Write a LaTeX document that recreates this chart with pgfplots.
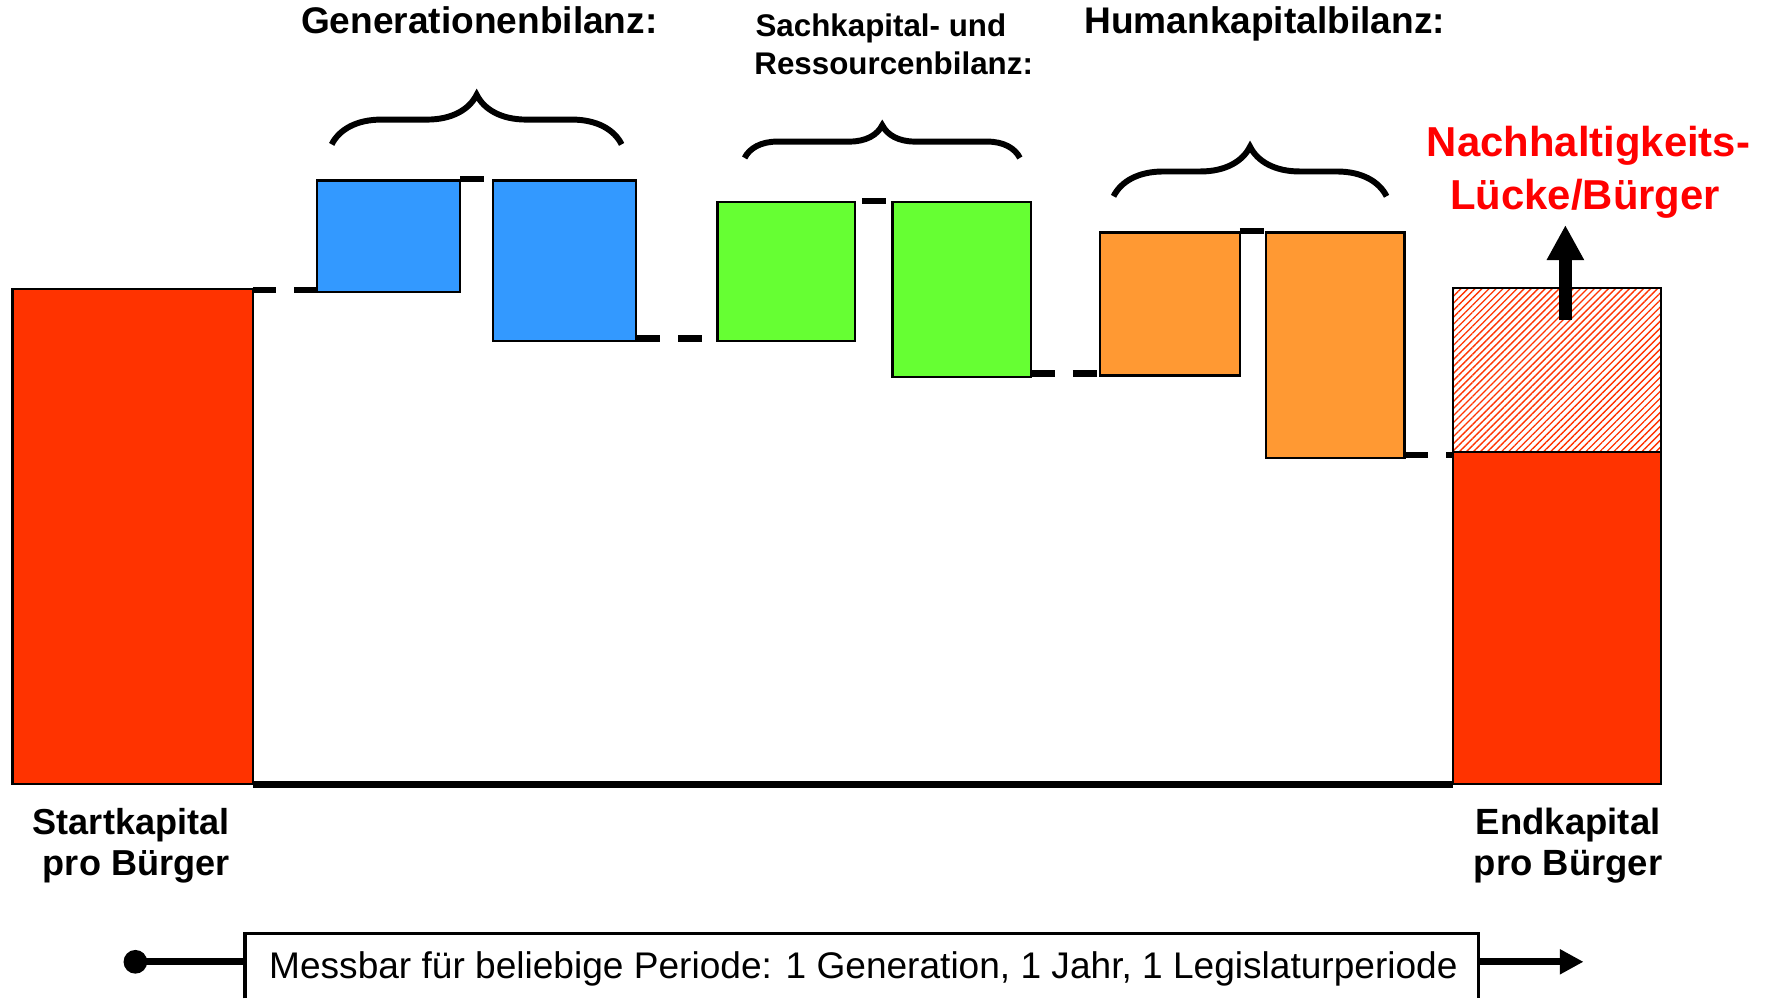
\documentclass[border=0pt]{standalone}
\usepackage{fontspec}
\setmainfont{Liberation Sans}
\usepackage{pgfplots}
\pgfplotsset{compat=1.18}
\usetikzlibrary{patterns.meta,arrows.meta,decorations.pathreplacing}
\definecolor{cred}{RGB}{255,51,0}
\definecolor{cblue}{RGB}{51,153,255}
\definecolor{cgreen}{RGB}{102,255,51}
\definecolor{corange}{RGB}{255,153,51}
\definecolor{lred}{RGB}{255,0,0}
\tikzset{
  bar/.style={draw=black, line width=0.6pt},
  conn/.style={black, line width=0.55mm, dash pattern=on 2.1mm off 1.6mm},
  brc/.style={black, line width=1.5pt, decorate},
}
\begin{document}
\begin{tikzpicture}
\useasboundingbox (0,0) rectangle (156.8mm,88.5mm);
\begin{axis}[
  at={(0,0)}, anchor=south west,
  scale only axis, width=156.8mm, height=88.5mm,
  xmin=0, xmax=1568, ymin=-190, ymax=695,
  hide axis, clip=false,
]
% --- bars (x from, x to, low value, high value) ---
% Startkapital
\addplot[bar, fill=cred] coordinates {(11,0) (224,0) (224,439) (11,439)} -- cycle;
% Generationenbilanz
\addplot[bar, fill=cblue] coordinates {(281,436) (408,436) (408,535) (281,535)} -- cycle;
\addplot[bar, fill=cblue] coordinates {(437,393) (564,393) (564,535) (437,535)} -- cycle;
% Sachkapital- und Ressourcenbilanz
\addplot[bar, fill=cgreen] coordinates {(636,393) (758,393) (758,516) (636,516)} -- cycle;
\addplot[bar, fill=cgreen] coordinates {(791,361) (914,361) (914,516) (791,516)} -- cycle;
% Humankapitalbilanz
\addplot[bar, fill=corange] coordinates {(975,362) (1099,362) (1099,489) (975,489)} -- cycle;
\addplot[bar, fill=corange] coordinates {(1122,289) (1245,289) (1245,489) (1122,489)} -- cycle;
% Endkapital and gap
\addplot[bar, fill=cred] coordinates {(1288,0) (1472,0) (1472,294.5) (1288,294.5)} -- cycle;
\addplot[bar, pattern={Lines[angle=45,distance=0.44mm,line width=0.12mm]}, pattern color=cred]
  coordinates {(1288,294.5) (1472,294.5) (1472,439.5) (1288,439.5)} -- cycle;

% --- connectors ---
\addplot[conn] coordinates {(224,438) (281,438)};
\addplot[conn] coordinates {(408,536) (437,536)};
\addplot[conn] coordinates {(564,395) (636,395)};
\addplot[conn] coordinates {(764,517) (791,517)};
\addplot[conn] coordinates {(914,364) (975,364)};
\addplot[conn] coordinates {(1099,490) (1122,490)};
\addplot[conn] coordinates {(1245,292) (1288,292)};
% baseline
\addplot[black, line width=0.6mm] coordinates {(224,-0.5) (1288,-0.5)};

% arrow for gap
\draw[line width=1.1mm, -{Triangle[length=3.1mm,width=3.1mm]}] (1387.5,411) -- (1387.5,495.5);

% braces
\draw[brc, decoration={brace, amplitude=4.4mm}] (294,567) -- (551,567);
\draw[brc, decoration={brace, amplitude=2.9mm}] (660,555) -- (904,555);
\draw[brc, decoration={brace, amplitude=4.4mm}] (987,521) -- (1229,521);

% titles
\node[anchor=base, font=\fontsize{9.35}{11}\selectfont\bfseries, inner sep=0] at (424.8,665.4) {Generationenbilanz:};
\node[anchor=base west, font=\fontsize{7.9}{9}\selectfont\bfseries, inner sep=0] at (669,662.5) {Sachkapital- und};
\node[anchor=base west, font=\fontsize{7.9}{9}\selectfont\bfseries, inner sep=0] at (668,629.4) {Ressourcenbilanz:};
\node[anchor=base, font=\fontsize{9.35}{11}\selectfont\bfseries, inner sep=0] at (1121,665.4) {Humankapitalbilanz:};
\node[anchor=base, font=\fontsize{10.55}{12}\selectfont\bfseries, text=lred, inner sep=0] at (1408,556) {Nachhaltigkeits-};
\node[anchor=base, font=\fontsize{10.55}{12}\selectfont\bfseries, text=lred, inner sep=0] at (1405,509) {Lücke/Bürger};

% bottom labels
\node[anchor=base east, font=\fontsize{9.1}{11}\selectfont\bfseries, inner sep=0] at (204,-45) {Startkapital};
\node[anchor=base east, font=\fontsize{9.1}{11}\selectfont\bfseries, inner sep=0] at (204,-80.7) {pro Bürger};
\node[anchor=base, font=\fontsize{9.2}{11}\selectfont\bfseries, inner sep=0] at (1390,-45) {Endkapital};
\node[anchor=base, font=\fontsize{9.2}{11}\selectfont\bfseries, inner sep=0] at (1390,-80.7) {pro Bürger};

% period box and arrow
\draw[line width=0.6mm] (120,-157.5) -- (217,-157.5);
\fill[black] (120,-157.5) circle[radius=1.05mm];
\draw[line width=0.6mm, -{Triangle[length=2.1mm,width=2.1mm]}] (1311,-157.5) -- (1403.6,-157.5);
\draw[line width=0.3mm] (217.2,-190) -- (217.2,-132.4) -- (1310.6,-132.4) -- (1310.6,-190);
\node[anchor=base west, font=\fontsize{9.35}{11}\selectfont, inner sep=0] at (237.9,-172.3) {Messbar für beliebige Periode: 1 Generation, 1 Jahr, 1 Legislaturperiode};
\end{axis}
\end{tikzpicture}
\end{document}
